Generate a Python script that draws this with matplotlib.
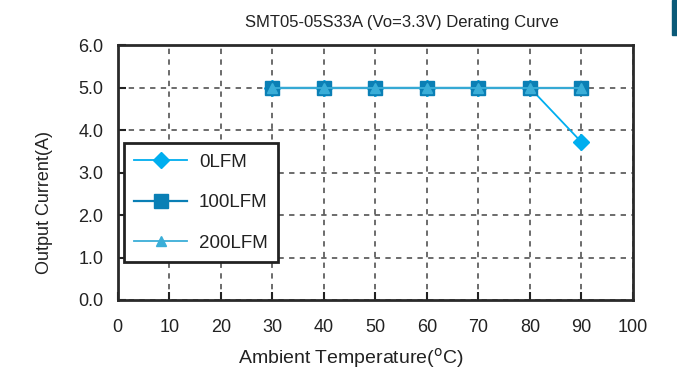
import matplotlib.pyplot as plt
from matplotlib.patches import Rectangle

plt.rcParams['font.family'] = ['Liberation Sans', 'DejaVu Sans']

# data
temps = [30, 40, 50, 60, 70, 80, 90]
lfm0 = [5.0, 5.0, 5.0, 5.0, 5.0, 5.0, 3.72]
lfm100 = [5.0, 5.0, 5.0, 5.0, 5.0, 5.0, 5.0]
lfm200 = [5.0, 5.0, 5.0, 5.0, 5.0, 5.0, 5.0]

x_ticks = list(range(0, 101, 10))
y_ticks = [0.0, 1.0, 2.0, 3.0, 4.0, 5.0, 6.0]

fig = plt.figure(figsize=(6.77, 3.69), dpi=100)
ax = fig.add_axes([0.174, 0.187, 0.761, 0.69])

ax.plot(temps, lfm0, color='#00aeef', marker='D', markersize=8.5, lw=1.3, label='0LFM', zorder=3)
ax.plot(temps, lfm100, color='#0a7fb5', marker='s', markersize=9.5, lw=1.6, label='100LFM', zorder=4)
ax.plot(temps, lfm200, color='#3aaed8', marker='^', markersize=7.5, lw=1.3, label='200LFM', zorder=5)

ax.set_xlim(0, 100)
ax.set_ylim(0, 6)
ax.set_xticks(x_ticks)
ax.set_yticks(y_ticks)
ax.set_yticklabels([f'{v:.1f}' for v in y_ticks])
ax.tick_params(direction='in', length=6, width=1.5, labelsize=13, colors='#222222')
ax.tick_params(axis='x', pad=14)
ax.tick_params(axis='y', pad=10.5)

ax.grid(True, linestyle=(0, (3.5, 3.5)), color='#444444', linewidth=1.1)
for s in ax.spines.values():
    s.set_linewidth(2)
    s.set_color('#2a2a2a')

# title and axis labels sit a little off-centre in the original
ax.set_title('SMT05-05S33A (Vo=3.3V) Derating Curve', fontsize=12, color='#222222', pad=13, x=0.552)
ax.set_xlabel('Ambient Temperature($^{\\rm o}$C)', fontsize=14, color='#222222')
ax.set_ylabel('Output Current(A)', fontsize=13, color='#222222')
ax.xaxis.set_label_coords(0.452, -0.18)
ax.yaxis.set_label_coords(-0.126, 0.382)

leg = ax.legend(loc='upper left', bbox_to_anchor=(0.012, 0.616), fontsize=13.5,
                fancybox=False, framealpha=1, edgecolor='#222222', borderaxespad=0,
                borderpad=0.55, labelspacing=1.25, handlelength=2.8, handletextpad=0.65)
leg.get_frame().set_linewidth(2)
for t in leg.get_texts():
    t.set_color('#222222')

fig.patches.append(Rectangle((0.992, 0.905), 0.008, 0.095, transform=fig.transFigure,
                             color='#0b5a78', zorder=10))

fig.savefig('out.png', dpi=100)
